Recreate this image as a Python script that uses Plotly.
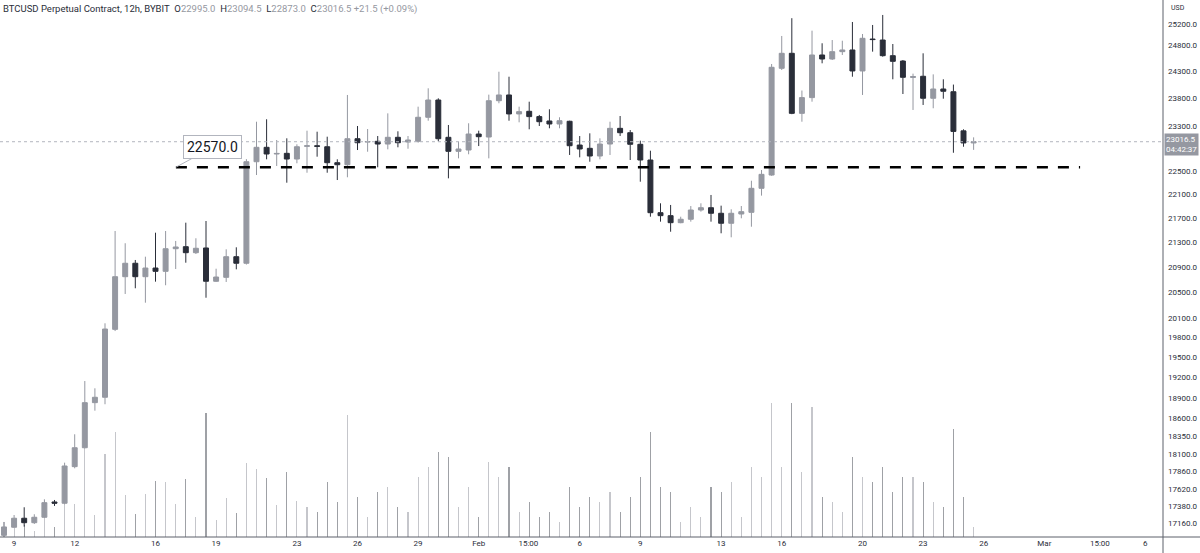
import math
import pandas as pd
import plotly.graph_objects as go

# ---------------- data ----------------
dates = pd.date_range("2023-01-08 12:00", periods=97, freq="12h")

opens = [17000, 17106, 17225, 17166, 17238, 17442, 17425, 17923, 18186, 18828,
         18906, 19921, 20745, 20961, 20745, 20884, 20831, 21197, 21230, 21132,
         21209, 20672, 20735, 21067, 20961, 22665, 22918, 22800, 22812, 22712,
         22935, 22945, 22928, 22648, 22613, 23070, 23010, 23024, 22976, 23095,
         23011, 23024, 23454, 23768, 23095, 22847, 22870, 23154, 23100, 23755,
         23860, 23514, 23562, 23466, 23387, 23333, 23382, 22958, 22900, 22765,
         22976, 23255, 23177, 22971, 22695, 21793, 21743, 21626, 21683, 21838,
         21877, 21783, 21616, 21771, 21799, 22206, 22434, 24355, 24638, 23525,
         23812, 24606, 24530, 24669, 24701, 24305, 24910, 24891, 24593, 24492,
         24185, 24206, 23800, 23970, 23920, 23210, 22995.0]
highs = [17176, 17268, 17371, 17278, 17478, 17469, 17978, 18375, 19144, 19037,
         20014, 21488, 21286, 21014, 21067, 21460, 21488, 21324, 21626, 21368,
         21654, 20873, 21187, 21220, 22710, 23374, 23418, 23047, 23077, 22971,
         23213, 23195, 23106, 22707, 23860, 23297, 23243, 23118, 23525, 23202,
         23118, 23646, 23983, 23799, 23315, 23017, 23346, 23213, 23866, 24291,
         24198, 23646, 23737, 23496, 23599, 23454, 23392, 23118, 23166, 23077,
         23374, 23477, 23225, 23035, 22858, 21951, 21923, 21726, 21905, 21951,
         22092, 21911, 21850, 21905, 22336, 22521, 24436, 24969, 25313, 23942,
         25071, 24829, 24891, 24878, 25239, 25007, 25181, 25376, 24815, 24511,
         24255, 24638, 24242, 24150, 24052, 23238, 23094.5]
lows = [16960, 17096, 17114, 17149, 17228, 17389, 17411, 17900, 18177, 18712,
        18805, 19895, 20471, 20561, 20334, 20666, 20609, 20868, 20970, 21111,
        20412, 20661, 20661, 20863, 20940, 22434, 22707, 22591, 22302, 22638,
        22474, 22753, 22474, 22348, 22395, 22870, 22840, 22568, 22882, 22918,
        22893, 22999, 23392, 23024, 22377, 22724, 22795, 22940, 22724, 23708,
        23392, 23363, 23238, 23297, 23256, 23256, 22783, 22742, 22665, 22707,
        22783, 23118, 22695, 22319, 21726, 21643, 21476, 21616, 21643, 21810,
        21643, 21450, 21384, 21699, 21559, 22081, 22420, 24323, 23510, 23374,
        23737, 24449, 24511, 24606, 24198, 23860, 24669, 24574, 24150, 23878,
        23586, 23677, 23617, 23792, 22822, 22928, 22873.0]
closes = [17110, 17225, 17166, 17238, 17433, 17425, 17932, 18186, 18828, 18906,
          19926, 20745, 20961, 20745, 20884, 20831, 21197, 21225, 21132, 21204,
          20672, 20740, 21067, 20961, 22665, 22918, 22800, 22810, 22712, 22928,
          22945, 22935, 22648, 22613, 23070, 22999, 23020, 22976, 23095, 22999,
          23047, 23454, 23768, 23070, 22847, 22888, 23154, 23106, 23755, 23860,
          23514, 23556, 23466, 23374, 23333, 23392, 22946, 22888, 22765, 22976,
          23255, 23177, 22971, 22695, 21793, 21743, 21626, 21683, 21838, 21877,
          21783, 21616, 21783, 21810, 22206, 22446, 24374, 24638, 23525, 23812,
          24606, 24530, 24669, 24701, 24305, 24924, 24900, 24593, 24486, 24187,
          24200, 23800, 23970, 23928, 23200, 22995, 23016.5]
volumes = [75, 45, 60, 30, 185, 50, 350, 165, 445, 110,
           415, 525, 210, 115, 215, 280, 275, 165, 290, 100,
           620, 85, 195, 120, 370, 340, 295, 160, 325, 180,
           150, 125, 275, 175, 610, 200, 100, 225, 250, 150,
           125, 300, 350, 425, 400, 150, 250, 100, 375, 300,
           350, 125, 175, 100, 125, 75, 250, 150, 200, 175,
           225, 125, 200, 300, 525, 250, 225, 75, 150, 100,
           250, 225, 275, 100, 350, 300, 670, 350, 670, 325,
           650, 200, 175, 125, 400, 300, 275, 350, 225, 300,
           300, 275, 175, 150, 540, 200, 50]

price_ticks = [17160, 17380, 17620, 17860, 18100, 18350, 18600, 18900, 19200,
               19500, 19800, 20100, 20500, 20900, 21300, 21700, 22100, 22500,
               23300, 23800, 24300, 24800, 25200]
time_tick_dates = ["2023-01-09", "2023-01-12", "2023-01-16", "2023-01-19",
                   "2023-01-23", "2023-01-26", "2023-01-29", "2023-02-01",
                   "2023-02-03 11:00", "2023-02-06", "2023-02-09", "2023-02-13",
                   "2023-02-16", "2023-02-20", "2023-02-23", "2023-02-26",
                   "2023-03-01", "2023-03-03 18:00", "2023-03-06"]
time_tick_labels = ["9", "12", "16", "19", "23", "26", "29", "Feb", "15:00", "6",
                    "9", "13", "16", "20", "23", "26", "Mar", "15:00", "6"]

level_price = 22570.0
level_start = "2023-01-17 00:15"
level_end = "2023-03-02 18:30"
last_price = closes[-1]
countdown = "04:42:37"

UP = "#9598a1"
DOWN = "#2a2e39"
AXIS = "#5d606b"
TXT = "#2a2e39"

vol_colors = ["rgba(149,152,161,0.55)" if c >= o else "rgba(42,46,57,0.45)"
              for o, c in zip(opens, closes)]

fig = go.Figure()
fig.add_trace(go.Bar(x=dates, y=volumes, yaxis="y2", marker_color=vol_colors,
                     marker_line_width=0, width=4.6e6, hoverinfo="skip"))
fig.add_trace(go.Candlestick(
    x=dates, open=opens, high=highs, low=lows, close=closes,
    increasing=dict(fillcolor=UP, line=dict(color=UP, width=1)),
    decreasing=dict(fillcolor=DOWN, line=dict(color=DOWN, width=1)),
    whiskerwidth=0))

# last price dotted line
fig.add_shape(type="line", xref="x domain", x0=0, x1=1, yref="y",
              y0=last_price, y1=last_price,
              line=dict(color="#b2b5be", width=1, dash="dot"))
# horizontal level
fig.add_shape(type="line", xref="x", x0=level_start, x1=level_end, yref="y",
              y0=level_price, y1=level_price,
              line=dict(color="#000000", width=2.6, dash="11px,10px"))
# axis frame lines
fig.add_shape(type="line", xref="paper", yref="paper", x0=1, x1=1, y0=-0.03, y1=1,
              line=dict(color=AXIS, width=1))
fig.add_shape(type="line", xref="paper", yref="paper", x0=0, x1=1.04, y0=0, y1=0,
              line=dict(color=AXIS, width=1))

fig.add_annotation(x=level_start, y=math.log10(level_price), xref="x", yref="y",
                   text=f"{level_price:.1f}", showarrow=True, arrowhead=0,
                   arrowwidth=1, arrowcolor="#b2b5be", ax=37, ay=-20,
                   font=dict(family="Roboto", size=14, color="#131722"),
                   bgcolor="#ffffff", bordercolor="#b2b5be", borderwidth=1,
                   borderpad=3)

fig.add_annotation(xref="paper", yref="y", x=1, y=math.log10(last_price),
                   xanchor="left", yanchor="middle", yshift=-3, xshift=1,
                   text=f"{last_price:.1f}<br>{countdown}", showarrow=False,
                   align="left", bgcolor=UP,
                   font=dict(family="Roboto", size=8, color="#ffffff"),
                   borderpad=1)

fig.add_annotation(xref="paper", yref="paper", x=1, y=1, xanchor="left",
                   yanchor="top", xshift=6, yshift=-2, text="USD", showarrow=False,
                   font=dict(family="Roboto", size=7, color=TXT))

g = "#9598a1"
header = ("BTCUSD Perpetual Contract, 12h, BYBIT\u00a0\u00a0"
          f"O<span style='color:{g}'>{opens[-1]:.1f}</span>\u00a0\u00a0"
          f"H<span style='color:{g}'>{highs[-1]:.1f}</span>\u00a0\u00a0"
          f"L<span style='color:{g}'>{lows[-1]:.1f}</span>\u00a0\u00a0"
          f"C<span style='color:{g}'>{closes[-1]:.1f}</span>\u00a0"
          f"<span style='color:{g}'>+21.5 (+0.09%)</span>")
fig.add_annotation(xref="paper", yref="paper", x=0, y=1, xanchor="left",
                   yanchor="top", xshift=1, yshift=-1, text=header,
                   showarrow=False, font=dict(family="Roboto", size=9.5, color=TXT))

fig.update_layout(
    width=1200, height=553,
    margin=dict(l=0, r=37, t=0, b=16),
    paper_bgcolor="#ffffff", plot_bgcolor="#ffffff",
    showlegend=False, bargap=0,
    xaxis=dict(type="date", range=["2023-01-08 07:15", "2023-03-06 21:00"],
               rangeslider=dict(visible=False), showgrid=False, zeroline=False,
               tickvals=time_tick_dates, ticktext=time_tick_labels, ticks="",
               tickfont=dict(family="Roboto", size=8, color=TXT)),
    yaxis=dict(type="log", side="right",
               range=[math.log10(16978), math.log10(25670)],
               tickvals=price_ticks, ticktext=[f"{v:.1f}" for v in price_ticks],
               showgrid=False, zeroline=False, ticks="", ticklabelstandoff=4,
               tickfont=dict(family="Roboto", size=8, color=TXT)),
    yaxis2=dict(overlaying="y", range=[0, 2685], visible=False),
)

fig.write_html("out.html")
